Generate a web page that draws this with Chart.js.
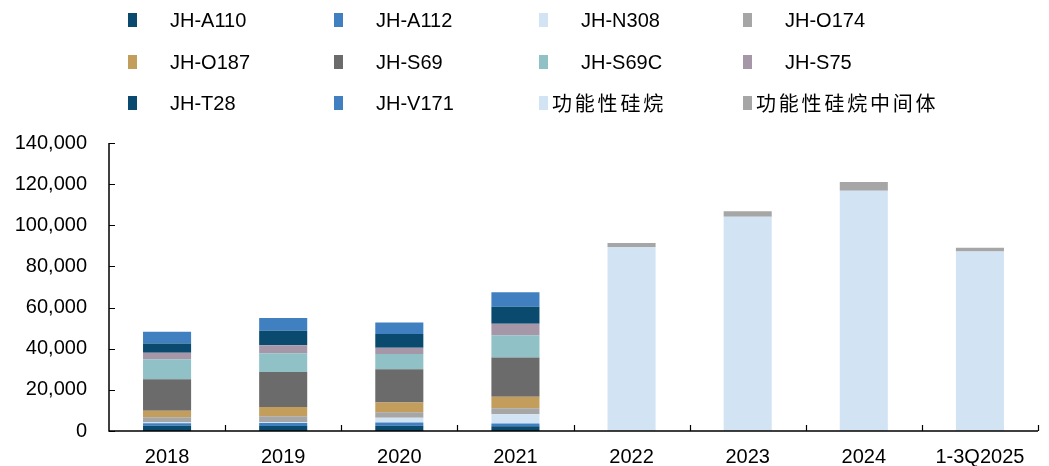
<!DOCTYPE html>
<html>
<head>
<meta charset="utf-8">
<script src="https://cdn.jsdelivr.net/npm/chart.js@4.4.1/dist/chart.umd.min.js"></script>
<style>
  html, body { margin: 0; padding: 0; background: #ffffff; }
  #wrap { position: relative; width: 1049px; height: 466px; overflow: hidden; }
  #chart { position: absolute; left: 0; top: 0; }
  .lg { position: absolute; font-family: "Liberation Sans", Arial, sans-serif; font-size: 20px; color: #000; white-space: nowrap; line-height: 24px; }
  .lg.cjk { font-family: "Noto Sans CJK SC", sans-serif; letter-spacing: 2.8px; font-size: 20px; }
  .sw { position: absolute; width: 9px; height: 14px; }
</style>
</head>
<body>
<div id="wrap">
  <canvas id="chart" width="1049" height="466"></canvas>
  <div id="legend"></div>
</div>
<script>
// Categories and tick labels
const categories = ['2018', '2019', '2020', '2021', '2022', '2023', '2024', '1-3Q2025'];
const yTicks = [0, 20000, 40000, 60000, 80000, 100000, 120000, 140000];

// Product capacity series (bottom to top in each stack)
const jhA110 = [2600, 2400, 2600, 2300, null, null, null, null];
const jhA112 = [1200, 1500, 1500, 1300, null, null, null, null];
const jhN308 = [600, 500, 2400, 4600, null, null, null, null];
const jhO174 = [2300, 2800, 2600, 2900, null, null, null, null];
const jhO187 = [3100, 4500, 4700, 5500, null, null, null, null];
const jhS69 = [15400, 17000, 16200, 19100, null, null, null, null];
const jhS69C = [9700, 9100, 7400, 10900, null, null, null, null];
const jhS75 = [3100, 3900, 3100, 5500, null, null, null, null];
const jhT28 = [4500, 7000, 6700, 8300, null, null, null, null];
const jhV171 = [5700, 6200, 5500, 7100, null, null, null, null];
const functionalSilane = [null, null, null, null, 89500, 104200, 116800, 87200];
const silaneIntermediate = [null, null, null, null, 1900, 2600, 4200, 1900];

const seriesNames = ['JH-A110', 'JH-A112', 'JH-N308', 'JH-O174', 'JH-O187', 'JH-S69',
  'JH-S69C', 'JH-S75', 'JH-T28', 'JH-V171', '功能性硅烷', '功能性硅烷中间体'];
const seriesValues = [jhA110, jhA112, jhN308, jhO174, jhO187, jhS69,
  jhS69C, jhS75, jhT28, jhV171, functionalSilane, silaneIntermediate];
const seriesColors = ['#0b4a6f', '#4080c0', '#d2e4f3', '#a6a6a6', '#c29d5c', '#6b6b6b',
  '#8fc1c7', '#a597a8', '#0b4a6f', '#4080c0', '#d2e4f3', '#a6a6a6'];

const datasets = seriesNames.map((name, i) => ({
  label: name,
  data: seriesValues[i],
  backgroundColor: seriesColors[i],
  borderWidth: 0,
  stack: 'total',
  barPercentage: 0.414,
  categoryPercentage: 1.0
}));

// Axis lines and short inward ticks
const axisPlugin = {
  id: 'axisLines',
  afterDraw(chart) {
    const { ctx, chartArea: a, scales: { x, y } } = chart;
    ctx.save();
    ctx.strokeStyle = '#000';
    ctx.lineWidth = 1.5;
    ctx.beginPath();
    ctx.moveTo(a.left, a.top);
    ctx.lineTo(a.left, a.bottom);
    ctx.lineTo(a.right, a.bottom);
    ctx.stroke();
    ctx.lineWidth = 1.2;
    ctx.beginPath();
    y.ticks.forEach(t => {
      const py = Math.round(y.getPixelForValue(t.value)) + 0.5;
      ctx.moveTo(a.left, py);
      ctx.lineTo(a.left + 6, py);
    });
    const half = (x.getPixelForValue(1) - x.getPixelForValue(0)) / 2;
    for (let i = 1; i <= categories.length; i++) {
      const px = Math.round(x.getPixelForValue(i - 1) + half) + 0.5;
      ctx.moveTo(px, a.bottom);
      ctx.lineTo(px, a.bottom - 6);
    }
    ctx.stroke();
    ctx.restore();
  }
};

const tickFont = { family: '"Liberation Sans", Arial, sans-serif', size: 20 };

new Chart(document.getElementById('chart'), {
  type: 'bar',
  data: { labels: categories, datasets },
  options: {
    responsive: false,
    animation: false,
    layout: { padding: { top: 143, right: 11, left: 0, bottom: 0 } },
    plugins: { legend: { display: false }, tooltip: { enabled: false } },
    scales: {
      x: {
        stacked: true,
        grid: { display: false, drawTicks: false },
        border: { display: false },
        ticks: { color: '#000', font: tickFont, padding: 14, maxRotation: 0, autoSkip: false },
        afterFit(s) { s.height = 35; }
      },
      y: {
        stacked: true,
        min: 0,
        max: 140000,
        afterBuildTicks(s) { s.ticks = yTicks.map(v => ({ value: v })); },
        grid: { display: false, drawTicks: false },
        border: { display: false },
        ticks: {
          color: '#000', font: tickFont, padding: 22,
          callback: v => v.toLocaleString('en-US')
        },
        afterFit(s) { s.width = 109; }
      }
    }
  },
  plugins: [axisPlugin]
});

// Four-column legend grid
const legendEl = document.getElementById('legend');
const colX = [132, 338, 543, 747];
const rowY = [20, 62, 103];
seriesNames.forEach((name, i) => {
  const col = i % 4, row = Math.floor(i / 4);
  const cx = colX[col], cy = rowY[row];
  const sw = document.createElement('div');
  sw.className = 'sw';
  sw.style.left = (cx - 4.5) + 'px';
  sw.style.top = (cy - 7) + 'px';
  sw.style.background = seriesColors[i];
  legendEl.appendChild(sw);
  const tx = document.createElement('div');
  const cjk = /[\u4e00-\u9fff]/.test(name);
  tx.className = 'lg' + (cjk ? ' cjk' : '');
  tx.textContent = name;
  tx.style.left = (cjk ? cx + 9 : cx + 38) + 'px';
  tx.style.top = (cy - 12) + 'px';
  legendEl.appendChild(tx);
});
</script>
</body>
</html>
